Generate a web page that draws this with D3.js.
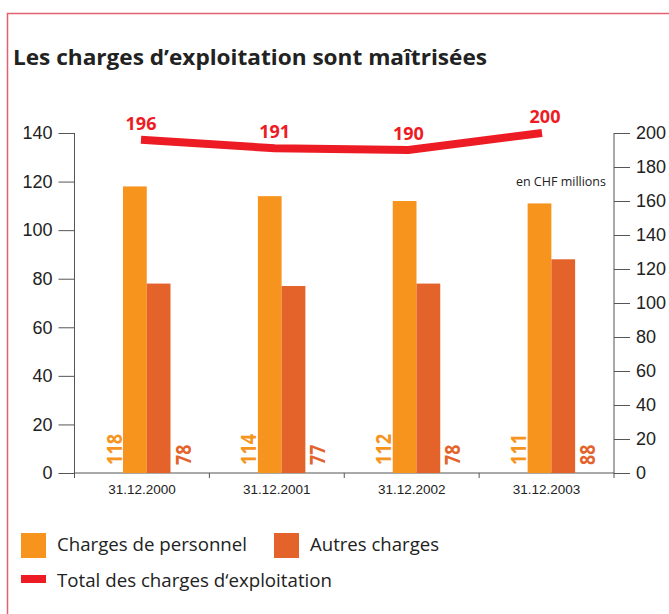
<!DOCTYPE html>
<html>
<head>
<meta charset="utf-8">
<script src="https://cdn.jsdelivr.net/npm/d3@7"></script>
<style>
  body { margin: 0; background: #fff; }
  svg { display: block; font-family: "Open Sans", "Noto Sans", sans-serif; }
  .axis text { fill: #222; font-size: 18px; }
  .axis line, .axis path { stroke: #555; }
  .axis.bottom text { font-size: 13.5px; }
</style>
</head>
<body>
<script>
//Chart data
var categories = ["31.12.2000", "31.12.2001", "31.12.2002", "31.12.2003"];
var personnel = [118, 114, 112, 111];
var autres = [78, 77, 78, 88];
var totals = [196, 191, 190, 200];
var leftTicks = [0, 20, 40, 60, 80, 100, 120, 140];
var rightTicks = [0, 20, 40, 60, 80, 100, 120, 140, 160, 180, 200];
var seriesNames = ["Charges de personnel", "Autres charges"];
var lineName = "Total des charges d\u2018exploitation";

var colOrange = "#F7941E",
    colDark = "#E4632A",
    colRed = "#ED1C24";

//Frame dimensions
var width = 669,
    height = 614,
    plotLeft = 74.5,
    plotRight = 614,
    plotTop = 133,
    plotBottom = 473;

var svg = d3.select("body")
    .append("svg")
    .attr("width", width)
    .attr("height", height);

//Frame border (left and top)
svg.append("path")
    .attr("d", "M7.5," + height + "V13.5H" + width)
    .attr("fill", "none")
    .attr("stroke", "#E2616F")
    .attr("stroke-width", 1.5);

//Title
svg.append("text")
    .attr("x", 13)
    .attr("y", 65)
    .attr("font-size", 22)
    .attr("font-weight", "bold")
    .attr("fill", "#222")
    .attr("textLength", 474)
    .attr("lengthAdjust", "spacingAndGlyphs")
    .text("Les charges d\u2019exploitation sont ma\u00eetris\u00e9es");

//Scales
var x = d3.scaleBand()
    .domain(categories)
    .range([plotLeft, plotRight]);

var xSub = d3.scaleBand()
    .domain(seriesNames)
    .range([48.5, 96]);

var yLeft = d3.scaleLinear()
    .domain([0, 140])
    .range([plotBottom, plotTop]);

var yRight = d3.scaleLinear()
    .domain([0, 200])
    .range([plotBottom, plotTop]);

//Left axis
var leftAxis = svg.append("g")
    .attr("class", "axis")
    .attr("transform", "translate(" + plotLeft + ",0)")
    .call(d3.axisLeft(yLeft).tickValues(leftTicks).tickSize(16).tickSizeOuter(0).tickPadding(6));
leftAxis.select(".domain").remove();
leftAxis.append("line")
    .attr("y1", plotTop)
    .attr("y2", plotBottom + 5)
    .attr("stroke", "#444");

//Right axis
var rightAxis = svg.append("g")
    .attr("class", "axis")
    .attr("transform", "translate(" + plotRight + ",0)")
    .call(d3.axisRight(yRight).tickValues(rightTicks).tickSize(16).tickSizeOuter(0).tickPadding(6));
rightAxis.select(".domain").remove();
rightAxis.append("line")
    .attr("y1", plotTop)
    .attr("y2", plotBottom + 5)
    .attr("stroke", "#444");

//Bottom axis: labels at centers, ticks at band edges
var bottomAxis = svg.append("g")
    .attr("class", "axis bottom")
    .attr("transform", "translate(0," + plotBottom + ")")
    .call(d3.axisBottom(x).tickSize(0).tickPadding(11));
bottomAxis.select(".domain").remove();
bottomAxis.append("line")
    .attr("x1", plotLeft)
    .attr("x2", plotRight)
    .attr("stroke", "#555");
bottomAxis.selectAll(".edge")
    .data(categories.slice(1))
    .enter()
    .append("line")
    .attr("class", "edge")
    .attr("x1", function(d){ return x(d); })
    .attr("x2", function(d){ return x(d); })
    .attr("y2", 5)
    .attr("stroke", "#444");

//Bars
var rows = categories.map(function(c, i){
    return {cat: c, values: [personnel[i], autres[i]]};
});

var groups = svg.selectAll(".group")
    .data(rows)
    .enter()
    .append("g")
    .attr("class", "group")
    .attr("transform", function(d){ return "translate(" + x(d.cat) + ",0)"; });

groups.selectAll("rect")
    .data(function(d){ return d.values.map(function(v, j){ return {name: seriesNames[j], v: v}; }); })
    .enter()
    .append("rect")
    .attr("x", function(d){ return xSub(d.name); })
    .attr("width", xSub.bandwidth())
    .attr("y", function(d){ return yLeft(d.v); })
    .attr("height", function(d){ return plotBottom - yLeft(d.v); })
    .attr("fill", function(d, j){ return j === 0 ? colOrange : colDark; });

//Rotated bar labels
groups.append("text")
    .attr("transform", "translate(" + (xSub(seriesNames[0]) - 1.5) + "," + (plotBottom - 8) + ") rotate(-90)")
    .attr("font-size", 22)
    .attr("font-weight", "bold")
    .attr("fill", colOrange)
    .attr("textLength", function(d){ return String(d.values[0]).length * 10.4; })
    .attr("lengthAdjust", "spacingAndGlyphs")
    .text(function(d){ return d.values[0]; });

groups.append("text")
    .attr("transform", "translate(" + (xSub(seriesNames[1]) + xSub.bandwidth() + 20) + "," + (plotBottom - 8) + ") rotate(-90)")
    .attr("font-size", 22)
    .attr("font-weight", "bold")
    .attr("fill", colDark)
    .attr("textLength", function(d){ return String(d.values[1]).length * 10.2; })
    .attr("lengthAdjust", "spacingAndGlyphs")
    .text(function(d){ return d.values[1]; });

//Total line (right scale)
var xLine = d3.scalePoint()
    .domain(categories)
    .range([141, 542]);

var line = d3.line()
    .x(function(d, i){ return xLine(categories[i]); })
    .y(function(d){ return yRight(d); });

svg.append("path")
    .datum(totals)
    .attr("d", line)
    .attr("fill", "none")
    .attr("stroke", colRed)
    .attr("stroke-width", 8);

svg.selectAll(".totalLabel")
    .data(totals)
    .enter()
    .append("text")
    .attr("class", "totalLabel")
    .attr("x", function(d, i){ return xLine(categories[i]) + (i === 3 ? 3 : 0); })
    .attr("y", function(d){ return yRight(d) - 10; })
    .attr("text-anchor", "middle")
    .attr("font-size", 18)
    .attr("font-weight", "bold")
    .attr("fill", colRed)
    .text(function(d){ return d; });

//Unit note
svg.append("text")
    .attr("x", 606)
    .attr("y", 186)
    .attr("text-anchor", "end")
    .attr("font-size", 12.5)
    .attr("fill", "#222")
    .text("en CHF millions");

//Legend
var legend = svg.append("g").attr("font-size", 18).attr("fill", "#222");
var legendX = [21, 274];
var legendW = [190, 129];

seriesNames.forEach(function(name, j){
    legend.append("rect")
        .attr("x", legendX[j])
        .attr("y", 533)
        .attr("width", 25)
        .attr("height", 25)
        .attr("fill", j === 0 ? colOrange : colDark);
    legend.append("text")
        .attr("x", legendX[j] + 36)
        .attr("y", 551)
        .attr("textLength", legendW[j])
        .attr("lengthAdjust", "spacingAndGlyphs")
        .text(name);
});

legend.append("rect")
    .attr("x", 21)
    .attr("y", 575)
    .attr("width", 25)
    .attr("height", 8)
    .attr("fill", colRed);
legend.append("text")
    .attr("x", 57)
    .attr("y", 587)
    .attr("textLength", 275)
    .attr("lengthAdjust", "spacingAndGlyphs")
    .text(lineName);
</script>
</body>
</html>
